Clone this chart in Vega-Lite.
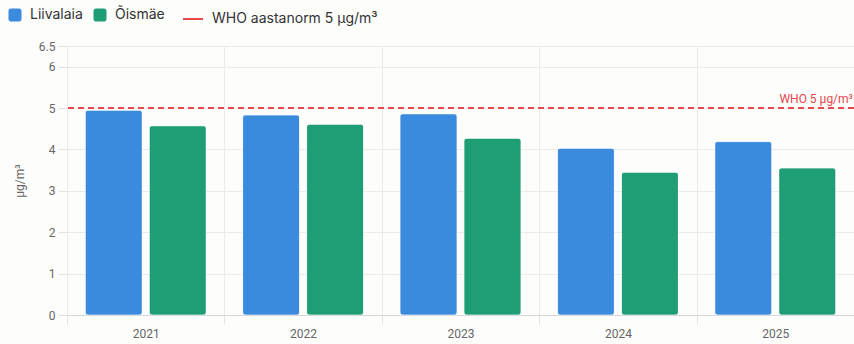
{
  "$schema": "https://vega.github.io/schema/vega-lite/v6.json",
  "width": 787,
  "height": 269,
  "autosize": {"type": "none"},
  "padding": {"left": 67, "top": 46, "right": 0, "bottom": 29},
  "background": "#fdfdfc",
  "config": {
    "view": {"stroke": null},
    "font": "Roboto",
    "axis": {
      "labelFont": "Roboto",
      "labelFontSize": 12,
      "labelColor": "#666666",
      "titleFont": "Roboto",
      "titleFontWeight": "normal",
      "titleColor": "#666666",
      "gridColor": "#ebebeb",
      "tickColor": "#e3e3e3",
      "domainColor": "#d6d6d6"
    },
    "axisY": {
      "values": [0, 1, 2, 3, 4, 5, 6, 6.5],
      "format": ".1~f",
      "labelOverlap": false,
      "domain": false,
      "tickSize": 9,
      "labelPadding": 3,
      "titlePadding": 12,
      "titleFontSize": 12,
      "grid": true
    },
    "legend": {
      "labelFont": "Inter",
      "labelFontSize": 14,
      "labelColor": "#333333",
      "labelLimit": 400,
      "orient": "none",
      "direction": "horizontal",
      "title": null
    }
  },
  "datasets": {
    "pm": [
      {"year": "2021", "station": "Liivalaia", "value": 4.95},
      {"year": "2021", "station": "Õismäe", "value": 4.57},
      {"year": "2022", "station": "Liivalaia", "value": 4.83},
      {"year": "2022", "station": "Õismäe", "value": 4.61},
      {"year": "2023", "station": "Liivalaia", "value": 4.86},
      {"year": "2023", "station": "Õismäe", "value": 4.27},
      {"year": "2024", "station": "Liivalaia", "value": 4.03},
      {"year": "2024", "station": "Õismäe", "value": 3.45},
      {"year": "2025", "station": "Liivalaia", "value": 4.19},
      {"year": "2025", "station": "Õismäe", "value": 3.55}
    ],
    "who": [
      {"value": 5, "series": "WHO aastanorm 5 μg/m³", "short": "WHO 5 μg/m³"}
    ]
  },
  "layer": [
    {
      "data": {"name": "pm"},
      "mark": {"type": "bar", "cornerRadius": 3, "stroke": "#ffffff", "strokeOpacity": 0.35, "strokeWidth": 1},
      "encoding": {
        "x": {
          "field": "year",
          "type": "nominal",
          "title": null,
          "scale": {"paddingInner": 0, "paddingOuter": 0},
          "axis": {
            "tickBand": "extent",
            "grid": true,
            "labelAngle": 0,
            "tickSize": 9,
            "labelPadding": 4,
            "domain": true
          }
        },
        "xOffset": {
          "field": "station",
          "type": "nominal",
          "scale": {"paddingInner": 0.11, "paddingOuter": 0.285}
        },
        "y": {
          "field": "value",
          "type": "quantitative",
          "title": "μg/m³",
          "scale": {"domain": [0, 6.5], "nice": false, "zero": true},
          "axis": {"values": [0, 1, 2, 3, 4, 5, 6, 6.5], "format": ".1~f"}
        },
        "color": {
          "field": "station",
          "type": "nominal",
          "scale": {"domain": ["Liivalaia", "Õismäe"], "range": ["#3a8ade", "#1f9e75"]},
          "legend": {
            "legendX": -59,
            "legendY": -38,
            "symbolType": "M-1,-0.6 A0.4,0.4 0 0 1 -0.6,-1 L0.6,-1 A0.4,0.4 0 0 1 1,-0.6 L1,0.6 A0.4,0.4 0 0 1 0.6,1 L-0.6,1 A0.4,0.4 0 0 1 -1,0.6 Z",
            "symbolSize": 170,
            "symbolOpacity": 1,
            "symbolStrokeWidth": 0,
            "columnPadding": 10,
            "labelOffset": 8
          }
        }
      }
    },
    {
      "data": {"name": "who"},
      "mark": {"type": "rule", "strokeDash": [6, 4], "strokeWidth": 2},
      "encoding": {
        "y": {"field": "value", "type": "quantitative", "title": "μg/m³", "axis": {"values": [0, 1, 2, 3, 4, 5, 6, 6.5], "format": ".1~f"}},
        "stroke": {
          "field": "series",
          "type": "nominal",
          "scale": {"range": ["#e5484d"]},
          "legend": {
            "legendX": 115,
            "legendY": -38,
            "symbolType": "stroke",
            "symbolSize": 400,
            "symbolStrokeWidth": 2,
            "symbolDash": [],
            "labelOffset": 8
          }
        }
      }
    },
    {
      "data": {"name": "who"},
      "mark": {"type": "text", "align": "right", "baseline": "bottom", "dy": -2, "dx": -1, "color": "#e5484d", "font": "Roboto", "fontSize": 12},
      "encoding": {
        "x": {"datum": "2025", "type": "nominal", "bandPosition": 1},
        "y": {"field": "value", "type": "quantitative", "title": "μg/m³", "axis": {"values": [0, 1, 2, 3, 4, 5, 6, 6.5], "format": ".1~f"}},
        "text": {"field": "short"}
      }
    }
  ]
}
